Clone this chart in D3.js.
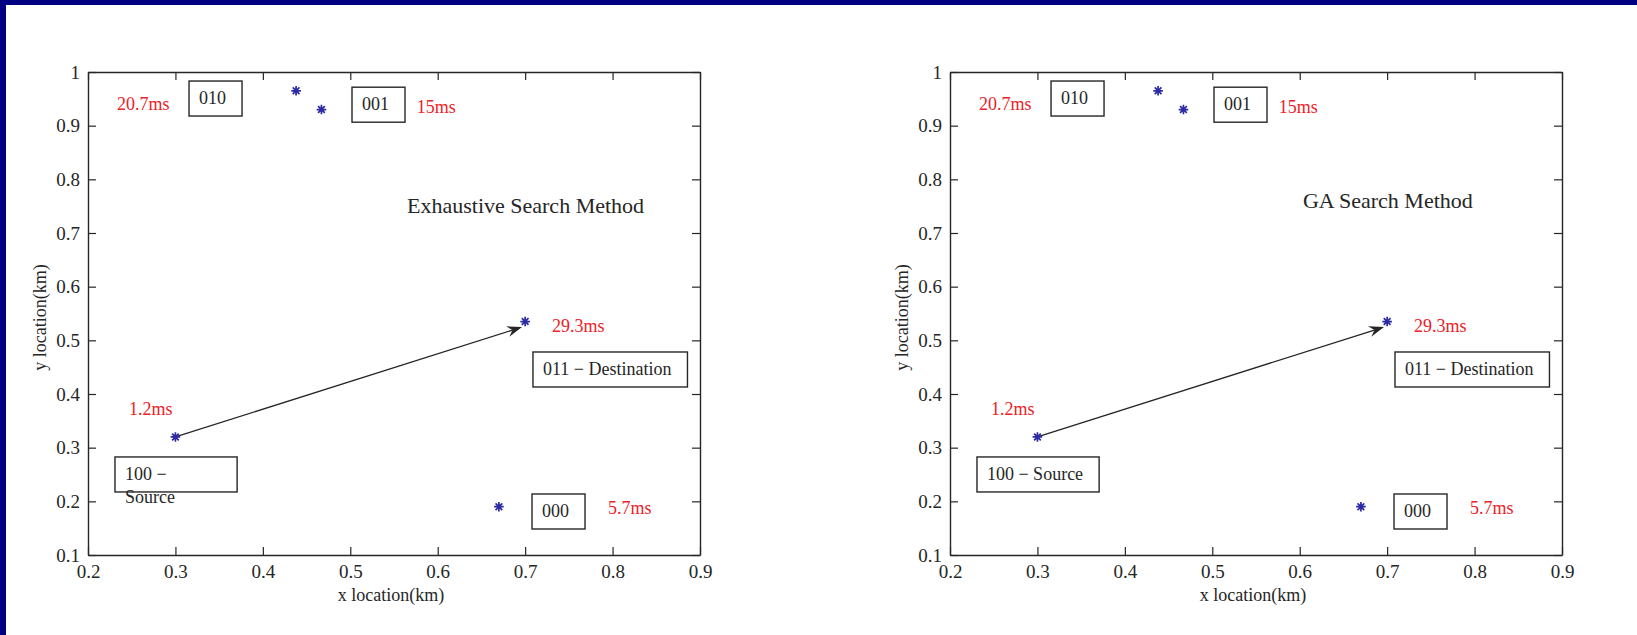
<!DOCTYPE html>
<html>
<head>
<meta charset="utf-8">
<script src="https://cdn.jsdelivr.net/npm/d3@7"></script>
<style>
  html, body { margin: 0; padding: 0; background: #ffffff; overflow: hidden; }
  svg { display: block; }
  text { font-family: "Liberation Serif", "Times New Roman", serif; }
</style>
</head>
<body>
<svg id="chart" width="1637" height="635"></svg>
<script>
// ---- node data (locations in km) ----
const nodeCodes   = ["100", "011", "000", "010", "001"];
const nodeRoles   = ["Source", "Destination", "", "", ""];
const nodeX       = [0.30, 0.70, 0.67, 0.438, 0.467];
const nodeY       = [0.32, 0.535, 0.19, 0.965, 0.93];
const delayLabels = ["1.2ms", "29.3ms", "5.7ms", "20.7ms", "15ms"];

// route found by each method: source -> destination
const routeFrom = 0;
const routeTo   = 1;

// ---- axes ----
const xTicks = [0.2, 0.3, 0.4, 0.5, 0.6, 0.7, 0.8, 0.9];
const yTicks = [0.1, 0.2, 0.3, 0.4, 0.5, 0.6, 0.7, 0.8, 0.9, 1.0];
const xLabel = "x location(km)";
const yLabel = "y location(km)";
const panelTitles = ["Exhaustive Search Method", "GA Search Method"];

// ---- annotation anchors, in data units (left edge, vertical centre) ----
const delayAnchors = [[0.247, 0.372], [0.7307, 0.5267], [0.7948, 0.1876], [0.2332, 0.941], [0.576, 0.935]];
const codeAnchors  = [[0.2423, 0.251], [0.7204, 0.4466], [0.7193, 0.182], [0.327, 0.9515], [0.5134, 0.940]];
const titleAnchors = [[0.5649, 0.750], [0.6037, 0.7596]];
const arrowTip     = [0.6964, 0.5248];

const W = 1637, H = 635;
const svg = d3.select("#chart");

// slide frame: navy bars along the top and left edges
svg.append("rect").attr("width", W).attr("height", H).attr("fill", "#ffffff");
svg.append("rect").attr("x", 0).attr("y", 0).attr("width", W).attr("height", 5).attr("fill", "#000080");
svg.append("rect").attr("x", 0).attr("y", 0).attr("width", 6).attr("height", H).attr("fill", "#000080");

const ink = "#262626";
const red = "#ec2228";
const starBlue = "#2b2ba3";

const panels = [
  { left: 88,  top: 72, width: 612, height: 483, wrapSource: true },
  { left: 950, top: 72, width: 612, height: 483, wrapSource: false }
];

panels.forEach((p, pi) => {
  const x = d3.scaleLinear().domain([0.2, 0.9]).range([p.left, p.left + p.width]);
  const y = d3.scaleLinear().domain([0.1, 1.0]).range([p.top + p.height, p.top]);
  const g = svg.append("g");

  const fmt = d => (d === 1 ? "1" : d3.format(".1f")(d));

  const styleAxis = sel => {
    sel.select(".domain").attr("stroke", ink).attr("stroke-width", 1.4);
    sel.selectAll(".tick line").attr("stroke", ink).attr("stroke-width", 1.2);
    sel.selectAll(".tick text").attr("fill", ink).style("font-size", "19px")
      .style("font-family", "'Liberation Serif', serif");
  };

  g.append("g").attr("transform", `translate(0,${p.top + p.height})`)
    .call(d3.axisBottom(x).tickValues(xTicks).tickFormat(fmt).tickSizeInner(-8).tickSizeOuter(0).tickPadding(10))
    .call(styleAxis);
  g.append("g").attr("transform", `translate(0,${p.top})`)
    .call(d3.axisTop(x).tickValues(xTicks).tickFormat("").tickSizeInner(-8).tickSizeOuter(0))
    .call(styleAxis);
  g.append("g").attr("transform", `translate(${p.left},0)`)
    .call(d3.axisLeft(y).tickValues(yTicks).tickFormat(fmt).tickSizeInner(-8).tickSizeOuter(0).tickPadding(8))
    .call(styleAxis);
  g.append("g").attr("transform", `translate(${p.left + p.width},0)`)
    .call(d3.axisRight(y).tickValues(yTicks).tickFormat("").tickSizeInner(-8).tickSizeOuter(0))
    .call(styleAxis);

  // axis titles
  g.append("text")
    .attr("x", p.left + p.width / 2 - 3).attr("y", 595)
    .attr("text-anchor", "middle").attr("dominant-baseline", "central")
    .attr("fill", ink).style("font-size", "18px").text(xLabel);
  g.append("text")
    .attr("transform", `translate(${p.left - 48},${p.top + p.height / 2 + 4}) rotate(-90)`)
    .attr("text-anchor", "middle").attr("dominant-baseline", "central")
    .attr("fill", ink).style("font-size", "18px").text(yLabel);

  // panel title
  g.append("text")
    .attr("x", x(titleAnchors[pi][0])).attr("y", y(titleAnchors[pi][1]))
    .attr("dy", "0.33em").attr("fill", ink).style("font-size", "22px")
    .text(panelTitles[pi]);

  // route arrow
  const x0 = x(nodeX[routeFrom]), y0 = y(nodeY[routeFrom]);
  const x1 = x(arrowTip[0]), y1 = y(arrowTip[1]);
  const dx = x1 - x0, dy = y1 - y0, len = Math.hypot(dx, dy);
  const ux = dx / len, uy = dy / len, nx = -uy, ny = ux;
  const headL = 15, headW = 5.5, notch = 5;
  g.append("line")
    .attr("x1", x0).attr("y1", y0)
    .attr("x2", x1 - ux * (headL - notch)).attr("y2", y1 - uy * (headL - notch))
    .attr("stroke", ink).attr("stroke-width", 1.3);
  g.append("path")
    .attr("d", d3.line()([
      [x1, y1],
      [x1 - ux * headL + nx * headW, y1 - uy * headL + ny * headW],
      [x1 - ux * (headL - notch), y1 - uy * (headL - notch)],
      [x1 - ux * headL - nx * headW, y1 - uy * headL - ny * headW]
    ]) + "Z")
    .attr("fill", ink);

  // node markers (asterisks)
  const r = 4.8;
  const star = `M${-r},0L${r},0M0,${-r}L0,${r}` +
    `M${-r * 0.7},${-r * 0.7}L${r * 0.7},${r * 0.7}M${-r * 0.7},${r * 0.7}L${r * 0.7},${-r * 0.7}`;
  g.selectAll("path.node").data(nodeCodes).join("path")
    .attr("class", "node")
    .attr("transform", (d, i) => `translate(${x(nodeX[i])},${y(nodeY[i])})`)
    .attr("d", star)
    .attr("stroke", starBlue).attr("stroke-width", 1.7).attr("fill", "none");

  // delay labels
  g.selectAll("text.delay").data(delayLabels).join("text")
    .attr("class", "delay")
    .attr("x", (d, i) => x(delayAnchors[i][0]))
    .attr("y", (d, i) => y(delayAnchors[i][1]))
    .attr("dy", "0.33em")
    .attr("fill", red).style("font-size", "18px")
    .text(d => d);

  // boxed node codes
  nodeCodes.forEach((code, i) => {
    const label = nodeRoles[i] ? `${code} \u2212 ${nodeRoles[i]}` : code;
    const tx = x(codeAnchors[i][0]), ty = y(codeAnchors[i][1]);
    const t = g.append("text")
      .attr("x", tx).attr("y", ty).attr("dy", "0.33em")
      .attr("fill", ink).style("font-size", "18px")
      .text(label);
    const bb = t.node().getBBox();
    g.insert("rect", () => t.node())
      .attr("x", bb.x - 10).attr("y", ty - 17)
      .attr("width", bb.width + 26).attr("height", 35)
      .attr("fill", "#ffffff").attr("stroke", ink).attr("stroke-width", 1.4);
    if (p.wrapSource && i === routeFrom) {
      t.text(null);
      t.append("tspan").attr("x", tx).text(`${code} \u2212`);
      t.append("tspan").attr("x", tx).attr("dy", 23).text(nodeRoles[i]);
    }
  });
});
</script>
</body>
</html>
